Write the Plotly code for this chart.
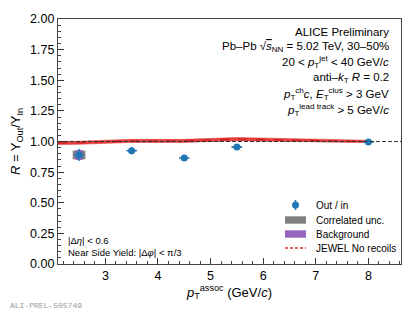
import plotly.graph_objects as go

# ---- data ----
pt_assoc = [2.5, 3.5, 4.5, 5.5, 8.0]
ratio = [0.89, 0.925, 0.865, 0.955, 0.995]
stat_err = [0.05, 0.03, 0.025, 0.025, 0.012]
bin_halfwidth = [0.1, 0.1, 0.1, 0.1, 0.1]
corr_unc = [0.035, 0.0, 0.0, 0.0, 0.0]
corr_halfwidth = [0.12, 0.12, 0.12, 0.12, 0.12]
bkg_unc = [0.04, 0.008, 0.004, 0.006, 0.003]
bkg_halfwidth = [0.07, 0.07, 0.07, 0.1, 0.07]

jewel_x = [2.1, 2.5, 3.5, 4.5, 5.5, 8.0]
jewel_y = [0.988, 0.99, 1.005, 1.005, 1.02, 1.0]
jewel_err = [0.013, 0.013, 0.013, 0.013, 0.013, 0.01]

reference_level = 1.0

x_range = [2.1, 8.62]
y_range = [0.0, 2.0]
y_ticks = [0.0, 0.25, 0.5, 0.75, 1.0, 1.25, 1.5, 1.75, 2.0]
x_ticks = [3, 4, 5, 6, 7, 8]

legend_labels = ["Out / in", "Correlated unc.", "Background", "JEWEL No recoils"]

FONT = "Liberation Sans"
W, H = 415, 312
OFF = 8  # page body margin offset
L, T = 58 - OFF, 19 - OFF
PW, PH = 343, 245
R, B = W - L - PW, H - T - PH

def px_x(px):
    return (px - OFF - L) / PW

def px_y(py):
    return 1 - (py - OFF - T) / PH

def boxes(xc, yc, hw, hh):
    xs, ys = [], []
    for x, y, w, h in zip(xc, yc, hw, hh):
        if h <= 0:
            continue
        xs += [x - w, x + w, x + w, x - w, x - w, None]
        ys += [y - h, y - h, y + h, y + h, y - h, None]
    return xs, ys

fig = go.Figure()

# JEWEL band
up = [y + e for y, e in zip(jewel_y, jewel_err)]
lo = [y - e for y, e in zip(jewel_y, jewel_err)]
fig.add_trace(go.Scatter(
    x=jewel_x + jewel_x[::-1], y=up + lo[::-1], fill="toself", mode="lines",
    fillcolor="rgba(225,30,30,0.85)", line=dict(color="rgba(225,30,30,0.85)", width=0.5),
    showlegend=False, hoverinfo="skip"))
fig.add_trace(go.Scatter(
    x=jewel_x, y=jewel_y, mode="lines", name=legend_labels[3], showlegend=False,
    line=dict(color="#c81e1e", dash="dash", width=1.2)))

# reference line
fig.add_hline(y=reference_level, line=dict(color="#333333", dash="4px,2px", width=1.2))

# correlated uncertainty boxes
bx, by = boxes(pt_assoc, ratio, corr_halfwidth, corr_unc)
fig.add_trace(go.Scatter(x=bx, y=by, fill="toself", fillcolor="#808080", mode="lines",
                         line=dict(width=0, color="#808080"), name=legend_labels[1], showlegend=False))
# background boxes
bx, by = boxes(pt_assoc, ratio, bkg_halfwidth, bkg_unc)
fig.add_trace(go.Scatter(x=bx, y=by, fill="toself", fillcolor="#9467bd", mode="lines",
                         line=dict(width=0, color="#9467bd"), name=legend_labels[2], showlegend=False))

# points
fig.add_trace(go.Scatter(
    x=pt_assoc, y=ratio, mode="markers", name=legend_labels[0], showlegend=False,
    marker=dict(color="#1f77b4", size=7),
    error_y=dict(type="data", array=stat_err, color="#1f77b4", thickness=1.5, width=0),
    error_x=dict(type="data", array=bin_halfwidth, color="#1f77b4", thickness=1.5, width=0)))

axis_common = dict(ticks="inside", ticklen=6, tickwidth=1, tickcolor="#333",
                   showgrid=False, zeroline=False, showline=True, linecolor="#444",
                   linewidth=1.2, mirror=True, automargin=False,
                   tickfont=dict(size=12.5, color="black"))

fig.update_layout(
    width=W, height=H,
    margin=dict(l=L, r=R, t=T, b=B),
    paper_bgcolor="white", plot_bgcolor="white",
    font=dict(family=FONT, size=12, color="black"),
    showlegend=False,
    xaxis=dict(range=x_range, tickvals=x_ticks,
               minor=dict(dtick=0.2, ticks="inside", ticklen=3, tickcolor="#444"),
               title=dict(text="<i>p</i><sub>T</sub><sup>assoc</sup> (GeV/<i>c</i>)",
                          font=dict(size=13), standoff=0), **axis_common),
    yaxis=dict(range=y_range, tickvals=y_ticks, tickformat=".2f",
               minor=dict(dtick=0.05, ticks="inside", ticklen=3, tickcolor="#444"),
               title=dict(text="<i>R</i> = Y<sub>Out</sub>/Y<sub>In</sub>", font=dict(size=13), standoff=10),
               **axis_common),
)

# manual legend
sym_x0, sym_x1, text_x = 285, 306, 314
leg_y = [205, 220, 234, 248]
fig.add_shape(type="line", xref="paper", yref="paper", x0=px_x(295.5), x1=px_x(295.5),
              y0=px_y(leg_y[0] - 5), y1=px_y(leg_y[0] + 5), line=dict(color="#1f77b4", width=1.5))
fig.add_shape(type="circle", xref="paper", yref="paper", xsizemode="pixel", ysizemode="pixel",
              xanchor=px_x(295.5), yanchor=px_y(leg_y[0]), x0=-3.5, x1=3.5, y0=-3.5, y1=3.5,
              fillcolor="#1f77b4", line=dict(width=0))
for yy, col in [(leg_y[1], "#808080"), (leg_y[2], "#9467bd")]:
    fig.add_shape(type="rect", xref="paper", yref="paper", x0=px_x(sym_x0), x1=px_x(sym_x1),
                  y0=px_y(yy - 3.7), y1=px_y(yy + 3.7), fillcolor=col, line=dict(width=0))
fig.add_shape(type="line", xref="paper", yref="paper", x0=px_x(sym_x0), x1=px_x(sym_x1),
              y0=px_y(leg_y[3]), y1=px_y(leg_y[3]), line=dict(color="#e03030", width=1.3, dash="3px,2px"))
for lab, yy in zip(legend_labels, leg_y):
    fig.add_annotation(text=lab, xref="paper", yref="paper", x=px_x(text_x), y=px_y(yy),
                       xanchor="left", yanchor="middle", showarrow=False,
                       font=dict(size=10, family=FONT))

lines = [
    "ALICE Preliminary",
    "Pb\u2013Pb \u221A<span style='text-decoration:overline'><i>s</i></span><sub>NN</sub> = 5.02 TeV, 30\u201350%",
    "20 &lt; <i>p</i><sub>T</sub><sup>jet</sup> &lt; 40 GeV/<i>c</i>",
    "anti\u2013<i>k</i><sub>T</sub> <i>R</i> = 0.2",
    "<i>p</i><sub>T</sub><sup>ch</sup><i>c</i>, <i>E</i><sub>T</sub><sup>clus</sup> &gt; 3 GeV",
    "<i>p</i><sub>T</sub><sup>lead track</sup> &gt; 5 GeV/<i>c</i>",
]
ys_px = [32, 47, 62, 78, 94, 110]
for t, ypx in zip(lines, ys_px):
    fig.add_annotation(text=t, xref="paper", yref="paper",
                       x=px_x(391), y=px_y(ypx),
                       xanchor="right", yanchor="middle", showarrow=False,
                       font=dict(size=11.5, family=FONT))

for t, ypx in [("|\u0394<i>\u03B7</i>| &lt; 0.6", 240),
               ("Near Side Yield: |\u0394<i>\u03C6</i>| &lt; \u03C0/3", 252)]:
    fig.add_annotation(text=t, xref="paper", yref="paper",
                       x=px_x(66), y=px_y(ypx),
                       xanchor="left", yanchor="middle", showarrow=False,
                       font=dict(size=9.5, family=FONT))

fig.add_annotation(text="ALI-PREL-505749", xref="paper", yref="paper",
                   x=px_x(OFF), y=px_y(305),
                   xanchor="left", yanchor="middle", showarrow=False,
                   font=dict(size=8, family="Liberation Mono", color="#999999"))

fig.write_html("out.html")
